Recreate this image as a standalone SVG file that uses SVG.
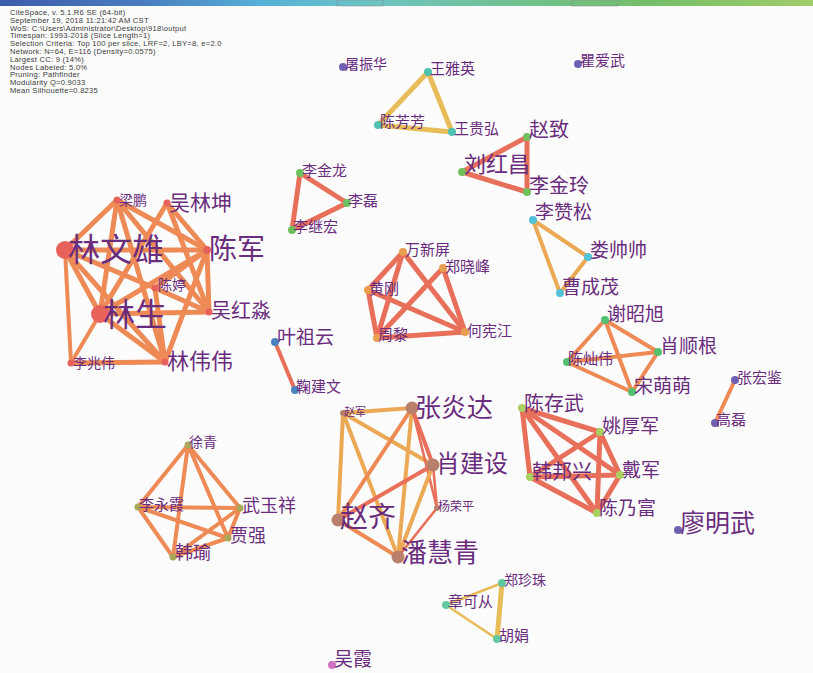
<svg xmlns="http://www.w3.org/2000/svg" width="813" height="673" viewBox="0 0 813 673">
<defs>
<linearGradient id="bar" x1="0" y1="0" x2="1" y2="0">
<stop offset="0" stop-color="#3c5ca8"/>
<stop offset="0.18" stop-color="#4a7ec0"/>
<stop offset="0.32" stop-color="#55b0d8"/>
<stop offset="0.45" stop-color="#6cc4c4"/>
<stop offset="0.65" stop-color="#72c08c"/>
<stop offset="0.8" stop-color="#74be68"/>
<stop offset="1" stop-color="#a2cc6a"/>
</linearGradient>
</defs>
<style>
.hd{font-family:"Liberation Sans",Arial,sans-serif;font-size:7.6px;letter-spacing:0.25px;fill:#3a3a3a}
.lb{font-family:"Noto Sans CJK SC","Noto Sans CJK JP",serif;fill:#6a2c7c}
.e{fill:none;stroke-linecap:round}
.o{stroke:#ee8a55}
.r{stroke:#e8705a}
.y{stroke:#eba955}
.g{stroke:#e8bc58}
.w5{stroke-width:5}
.w4{stroke-width:4}
.w3{stroke-width:2.6}
.cL{fill:#e8625c}
.cA{fill:#6cc060}
.cB{fill:#e8a050}
.cBl{fill:#4a82c2}
.cC{fill:#b8806a}
.cD{fill:#a8d060}
.cP{fill:#7060b2}
.cE{fill:#a8a858}
.cF{fill:#52c0d8}
.cG{fill:#52c070}
.cH{fill:#72c05a}
.cI{fill:#50c0b0}
.cJ{fill:#62c8a0}
.cK{fill:#d070c0}
</style>
<rect x="0" y="0" width="813" height="673" fill="#fcfcfc"/>
<rect x="0" y="0" width="813" height="6" fill="url(#bar)"/>
<rect x="337" y="0" width="46" height="6" fill="none" stroke="#888" stroke-width="0.8" opacity="0.6"/>
<rect x="572" y="0" width="46" height="6" fill="none" stroke="#888" stroke-width="0.8" opacity="0.6"/>
<g id="header">
<text class="hd" x="10" y="15">CiteSpace, v. 5.1.R6 SE (64-bit)</text>
<text class="hd" x="10" y="22.8">September 19, 2018 11:21:42 AM CST</text>
<text class="hd" x="10" y="30.6">WoS: C:\Users\Administrator\Desktop\918\output</text>
<text class="hd" x="10" y="38.4">Timespan: 1993-2018 (Slice Length=1)</text>
<text class="hd" x="10" y="46.2">Selection Criteria: Top 100 per slice, LRF=2, LBY=8, e=2.0</text>
<text class="hd" x="10" y="54">Network: N=64, E=116 (Density=0.0575)</text>
<text class="hd" x="10" y="61.8">Largest CC: 9 (14%)</text>
<text class="hd" x="10" y="69.6">Nodes Labeled: 5.0%</text>
<text class="hd" x="10" y="77.4">Pruning: Pathfinder</text>
<text class="hd" x="10" y="85.2">Modularity Q=0.9033</text>
<text class="hd" x="10" y="93">Mean Silhouette=0.8235</text>
</g>
<g id="edges">
<!-- cluster L -->
<line class="e o w5" x1="65" y1="250" x2="117" y2="200"/>
<line class="e o w5" x1="65" y1="250" x2="207" y2="250"/>
<line class="e o w5" x1="65" y1="250" x2="155" y2="288"/>
<line class="e o w5" x1="65" y1="250" x2="100" y2="314"/>
<line class="e o w4" x1="65" y1="250" x2="71" y2="363"/>
<line class="e o w5" x1="65" y1="250" x2="165" y2="362"/>
<line class="e o w5" x1="117" y1="200" x2="207" y2="250"/>
<line class="e o w5" x1="117" y1="200" x2="100" y2="314"/>
<line class="e o w5" x1="117" y1="200" x2="209" y2="312"/>
<line class="e o w5" x1="117" y1="200" x2="165" y2="362"/>
<line class="e o w5" x1="167" y1="203" x2="207" y2="250"/>
<line class="e o w5" x1="167" y1="203" x2="100" y2="314"/>
<line class="e o w5" x1="167" y1="203" x2="209" y2="312"/>
<line class="e o w5" x1="207" y1="250" x2="100" y2="314"/>
<line class="e o w5" x1="207" y1="250" x2="209" y2="312"/>
<line class="e o w5" x1="207" y1="250" x2="165" y2="362"/>
<line class="e o w5" x1="207" y1="250" x2="155" y2="288"/>
<line class="e o w5" x1="155" y1="288" x2="165" y2="362"/>
<line class="e o w5" x1="155" y1="288" x2="209" y2="312"/>
<line class="e o w5" x1="100" y1="314" x2="209" y2="312"/>
<line class="e o w5" x1="100" y1="314" x2="165" y2="362"/>
<line class="e o w4" x1="100" y1="314" x2="71" y2="363"/>
<line class="e o w5" x1="71" y1="363" x2="165" y2="362"/>
<!-- cluster A -->
<line class="e r w5" x1="300" y1="173" x2="347" y2="203"/>
<line class="e r w5" x1="300" y1="173" x2="292" y2="230"/>
<line class="e r w5" x1="347" y1="203" x2="292" y2="230"/>
<!-- cluster B -->
<line class="e r w5" x1="403" y1="252" x2="368" y2="290"/>
<line class="e r w5" x1="403" y1="252" x2="377" y2="338"/>
<line class="e r w5" x1="403" y1="252" x2="465" y2="332"/>
<line class="e r w5" x1="443" y1="268" x2="377" y2="338"/>
<line class="e r w5" x1="443" y1="268" x2="465" y2="332"/>
<line class="e r w5" x1="368" y1="290" x2="377" y2="338"/>
<line class="e r w5" x1="368" y1="290" x2="465" y2="332"/>
<line class="e r w5" x1="377" y1="338" x2="465" y2="332"/>
<line class="e r w4" x1="275" y1="342" x2="295" y2="390"/>
<!-- cluster C -->
<line class="e y w4" x1="343" y1="413" x2="412" y2="408"/>
<line class="e y w4" x1="343" y1="413" x2="433" y2="465"/>
<line class="e y w4" x1="343" y1="413" x2="338" y2="520"/>
<line class="e y w4" x1="343" y1="413" x2="398" y2="557"/>
<line class="e o w4" x1="412" y1="408" x2="338" y2="520"/>
<line class="e y w4" x1="412" y1="408" x2="398" y2="557"/>
<line class="e r w4" x1="412" y1="408" x2="433" y2="465"/>
<line class="e r w3" x1="412" y1="408" x2="437" y2="508"/>
<line class="e r w4" x1="433" y1="465" x2="338" y2="520"/>
<line class="e y w4" x1="433" y1="465" x2="398" y2="557"/>
<line class="e r w3" x1="433" y1="465" x2="437" y2="508"/>
<line class="e o w4" x1="338" y1="520" x2="398" y2="557"/>
<line class="e r w3" x1="437" y1="508" x2="398" y2="557"/>
<!-- cluster D -->
<line class="e r w5" x1="522" y1="408" x2="600" y2="432"/>
<line class="e r w5" x1="522" y1="408" x2="530" y2="477"/>
<line class="e r w5" x1="522" y1="408" x2="620" y2="475"/>
<line class="e r w5" x1="522" y1="408" x2="597" y2="513"/>
<line class="e r w5" x1="600" y1="432" x2="530" y2="477"/>
<line class="e r w5" x1="600" y1="432" x2="620" y2="475"/>
<line class="e r w5" x1="600" y1="432" x2="597" y2="513"/>
<line class="e r w5" x1="530" y1="477" x2="620" y2="475"/>
<line class="e r w5" x1="530" y1="477" x2="597" y2="513"/>
<line class="e r w5" x1="620" y1="475" x2="597" y2="513"/>
<line class="e o w4" x1="735" y1="380" x2="715" y2="423"/>
<!-- cluster E -->
<line class="e o w4" x1="188" y1="445" x2="138" y2="507"/>
<line class="e o w4" x1="188" y1="445" x2="240" y2="508"/>
<line class="e o w4" x1="188" y1="445" x2="228" y2="538"/>
<line class="e o w4" x1="188" y1="445" x2="173" y2="557"/>
<line class="e o w4" x1="138" y1="507" x2="240" y2="508"/>
<line class="e o w4" x1="138" y1="507" x2="228" y2="538"/>
<line class="e o w4" x1="138" y1="507" x2="173" y2="557"/>
<line class="e o w4" x1="240" y1="508" x2="228" y2="538"/>
<line class="e o w4" x1="240" y1="508" x2="173" y2="557"/>
<line class="e o w4" x1="228" y1="538" x2="173" y2="557"/>
<!-- cluster F -->
<line class="e y w4" x1="533" y1="220" x2="588" y2="257"/>
<line class="e y w4" x1="533" y1="220" x2="560" y2="293"/>
<line class="e y w4" x1="588" y1="257" x2="560" y2="293"/>
<!-- cluster G -->
<line class="e o w4" x1="605" y1="320" x2="567" y2="362"/>
<line class="e o w4" x1="605" y1="320" x2="658" y2="352"/>
<line class="e o w4" x1="605" y1="320" x2="632" y2="392"/>
<line class="e o w4" x1="567" y1="362" x2="658" y2="352"/>
<line class="e o w4" x1="567" y1="362" x2="632" y2="392"/>
<line class="e o w4" x1="658" y1="352" x2="632" y2="392"/>
<!-- cluster H -->
<line class="e r w5" x1="527" y1="137" x2="462" y2="172"/>
<line class="e r w5" x1="527" y1="137" x2="527" y2="192"/>
<line class="e r w5" x1="462" y1="172" x2="527" y2="192"/>
<!-- cluster I -->
<line class="e g w5" x1="428" y1="72" x2="378" y2="125"/>
<line class="e g w5" x1="428" y1="72" x2="452" y2="132"/>
<line class="e g w5" x1="378" y1="125" x2="452" y2="132"/>
<!-- cluster J -->
<line class="e g w3" x1="502" y1="583" x2="446" y2="605"/>
<line class="e g w5" x1="502" y1="583" x2="497" y2="639"/>
<line class="e g w3" x1="446" y1="605" x2="497" y2="639"/>
</g>
<g id="n-linwenxiong"><circle class="cL" cx="65" cy="250" r="9"/><text class="lb" x="68" y="261" font-size="32">林文雄</text></g>
<g id="n-liangpeng"><circle class="cL" cx="117" cy="200" r="3.5"/><text class="lb" x="119" y="205" font-size="14">梁鹏</text></g>
<g id="n-wulinkun"><circle class="cL" cx="167" cy="203" r="3.5"/><text class="lb" x="169" y="210" font-size="21">吴林坤</text></g>
<g id="n-chenjun"><circle class="cL" cx="207" cy="250" r="4"/><text class="lb" x="209" y="259" font-size="28">陈军</text></g>
<g id="n-chenting"><circle class="cL" cx="155" cy="288" r="3.5"/><text class="lb" x="158" y="290" font-size="14">陈婷</text></g>
<g id="n-wuhongmiao"><circle class="cL" cx="209" cy="312" r="3.5"/><text class="lb" x="211" y="318" font-size="20">吴红淼</text></g>
<g id="n-linsheng"><circle class="cL" cx="100" cy="314" r="9"/><text class="lb" x="103" y="326" font-size="32">林生</text></g>
<g id="n-lizhaowei"><circle class="cL" cx="71" cy="363" r="3.5"/><text class="lb" x="73" y="368" font-size="14">李兆伟</text></g>
<g id="n-linweiwei"><circle class="cL" cx="165" cy="362" r="3.5"/><text class="lb" x="167" y="369" font-size="22">林伟伟</text></g>
<g id="n-lijinlong"><circle class="cA" cx="300" cy="173" r="4"/><text class="lb" x="302" y="176" font-size="15">李金龙</text></g>
<g id="n-lilei"><circle class="cA" cx="347" cy="203" r="4"/><text class="lb" x="348" y="206" font-size="15">李磊</text></g>
<g id="n-lijihong"><circle class="cA" cx="292" cy="230" r="4"/><text class="lb" x="293" y="232" font-size="15">李继宏</text></g>
<g id="n-wanxinping"><circle class="cB" cx="403" cy="252" r="4"/><text class="lb" x="405" y="255" font-size="15">万新屏</text></g>
<g id="n-zhengxiaofeng"><circle class="cB" cx="443" cy="268" r="4"/><text class="lb" x="445" y="272" font-size="15">郑晓峰</text></g>
<g id="n-huanggang"><circle class="cB" cx="368" cy="290" r="4"/><text class="lb" x="369" y="294" font-size="15">黄刚</text></g>
<g id="n-zhouli"><circle class="cB" cx="377" cy="338" r="4"/><text class="lb" x="378" y="340" font-size="15">周黎</text></g>
<g id="n-hexianjiang"><circle class="cB" cx="465" cy="332" r="4"/><text class="lb" x="467" y="336" font-size="15">何宪江</text></g>
<g id="n-yezuyun"><circle class="cBl" cx="275" cy="342" r="4"/><text class="lb" x="277" y="344" font-size="19">叶祖云</text></g>
<g id="n-jujianwen"><circle class="cBl" cx="295" cy="390" r="4"/><text class="lb" x="296" y="392" font-size="15">鞠建文</text></g>
<g id="n-zhaojun"><circle class="cC" cx="343" cy="413" r="3"/><text class="lb" x="344" y="416" font-size="11">赵军</text></g>
<g id="n-zhangyanda"><circle class="cC" cx="412" cy="408" r="6.5"/><text class="lb" x="415" y="417" font-size="26">张炎达</text></g>
<g id="n-xiaojianshe"><circle class="cC" cx="433" cy="465" r="6.5"/><text class="lb" x="436" y="472" font-size="24">肖建设</text></g>
<g id="n-yangrongping"><circle class="cC" cx="437" cy="508" r="3"/><text class="lb" x="438" y="511" font-size="12">杨荣平</text></g>
<g id="n-zhaoqi"><circle class="cC" cx="338" cy="520" r="6.5"/><text class="lb" x="340" y="527" font-size="28">赵齐</text></g>
<g id="n-panhuiqing"><circle class="cC" cx="398" cy="557" r="6.5"/><text class="lb" x="401" y="562" font-size="26">潘慧青</text></g>
<g id="n-chencunwu"><circle class="cD" cx="522" cy="408" r="4"/><text class="lb" x="524" y="411" font-size="20">陈存武</text></g>
<g id="n-yaohoujun"><circle class="cD" cx="600" cy="432" r="4"/><text class="lb" x="602" y="433" font-size="19">姚厚军</text></g>
<g id="n-hanbangxing"><circle class="cD" cx="530" cy="477" r="4"/><text class="lb" x="532" y="479" font-size="20">韩邦兴</text></g>
<g id="n-daijun"><circle class="cD" cx="620" cy="475" r="4"/><text class="lb" x="622" y="477" font-size="19">戴军</text></g>
<g id="n-chennaifu"><circle class="cD" cx="597" cy="513" r="4"/><text class="lb" x="599" y="515" font-size="19">陈乃富</text></g>
<g id="n-liaomingwu"><circle class="cP" cx="678" cy="530" r="4"/><text class="lb" x="680" y="532" font-size="25">廖明武</text></g>
<g id="n-gaolei"><circle class="cP" cx="715" cy="423" r="4"/><text class="lb" x="716" y="425" font-size="15">高磊</text></g>
<g id="n-zhanghongjian"><circle class="cP" cx="735" cy="380" r="4"/><text class="lb" x="737" y="383" font-size="15">张宏鉴</text></g>
<g id="n-quaiwu"><circle class="cP" cx="578" cy="64" r="4"/><text class="lb" x="580" y="66" font-size="15">瞿爱武</text></g>
<g id="n-tuzhenhua"><circle class="cP" cx="343" cy="67" r="4"/><text class="lb" x="345" y="69" font-size="14">屠振华</text></g>
<g id="n-xuqing"><circle class="cE" cx="188" cy="445" r="3.5"/><text class="lb" x="189" y="447" font-size="14">徐青</text></g>
<g id="n-liyongxia"><circle class="cE" cx="138" cy="507" r="3.5"/><text class="lb" x="139" y="510" font-size="15">李永霞</text></g>
<g id="n-wuyuxiang"><circle class="cE" cx="240" cy="508" r="3.5"/><text class="lb" x="242" y="512" font-size="18">武玉祥</text></g>
<g id="n-jiaqiang"><circle class="cE" cx="228" cy="538" r="3.5"/><text class="lb" x="230" y="542" font-size="18">贾强</text></g>
<g id="n-hanyu"><circle class="cE" cx="173" cy="557" r="3.5"/><text class="lb" x="175" y="559" font-size="18">韩瑜</text></g>
<g id="n-lizansong"><circle class="cF" cx="533" cy="220" r="4"/><text class="lb" x="535" y="219" font-size="19">李赞松</text></g>
<g id="n-loushuaishuai"><circle class="cF" cx="588" cy="257" r="4"/><text class="lb" x="590" y="257" font-size="19">娄帅帅</text></g>
<g id="n-caochengmao"><circle class="cF" cx="560" cy="293" r="4"/><text class="lb" x="562" y="294" font-size="19">曹成茂</text></g>
<g id="n-xiezhaoxu"><circle class="cG" cx="605" cy="320" r="4"/><text class="lb" x="607" y="321" font-size="19">谢昭旭</text></g>
<g id="n-xiaoshungen"><circle class="cG" cx="658" cy="352" r="4"/><text class="lb" x="660" y="353" font-size="19">肖顺根</text></g>
<g id="n-chencanwei"><circle class="cG" cx="567" cy="362" r="4"/><text class="lb" x="568" y="364" font-size="15">陈灿伟</text></g>
<g id="n-songmengmeng"><circle class="cG" cx="632" cy="392" r="4"/><text class="lb" x="634" y="393" font-size="19">宋萌萌</text></g>
<g id="n-zhaozhi"><circle class="cH" cx="527" cy="137" r="4"/><text class="lb" x="529" y="137" font-size="20">赵致</text></g>
<g id="n-liuhongchang"><circle class="cH" cx="462" cy="172" r="4"/><text class="lb" x="464" y="172" font-size="22">刘红昌</text></g>
<g id="n-lijinling"><circle class="cH" cx="527" cy="192" r="4"/><text class="lb" x="529" y="193" font-size="20">李金玲</text></g>
<g id="n-wangyaying"><circle class="cI" cx="428" cy="72" r="4"/><text class="lb" x="430" y="74" font-size="15">王雅英</text></g>
<g id="n-chenfangfang"><circle class="cI" cx="378" cy="125" r="4"/><text class="lb" x="380" y="127" font-size="15">陈芳芳</text></g>
<g id="n-wangguihong"><circle class="cI" cx="452" cy="132" r="4"/><text class="lb" x="454" y="134" font-size="15">王贵弘</text></g>
<g id="n-zhengzhenzhu"><circle class="cJ" cx="502" cy="583" r="4"/><text class="lb" x="504" y="585" font-size="14">郑珍珠</text></g>
<g id="n-zhangkecong"><circle class="cJ" cx="446" cy="605" r="4"/><text class="lb" x="448" y="607" font-size="15">章可从</text></g>
<g id="n-hujuan"><circle class="cJ" cx="497" cy="639" r="4"/><text class="lb" x="499" y="641" font-size="15">胡娟</text></g>
<g id="n-wuxia"><circle class="cK" cx="332" cy="665" r="4"/><text class="lb" x="334" y="666" font-size="19">吴霞</text></g>
</svg>
